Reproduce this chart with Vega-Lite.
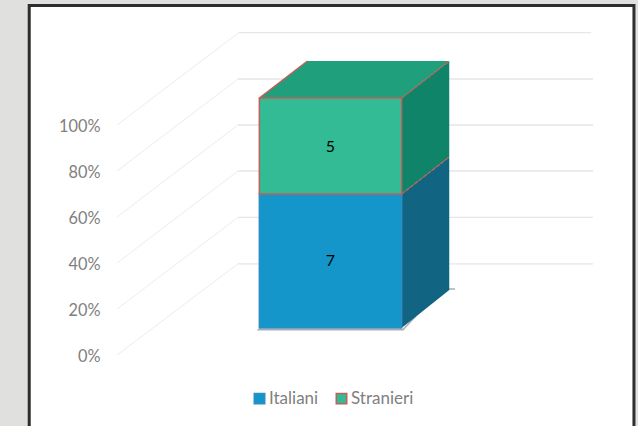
{"$schema":"https://vega.github.io/schema/vega-lite/v6.json","width":638,"height":426,"padding":0,"autosize":{"type":"none"},"background":"#e0e0de","config":{"view":{"stroke":null},"font":"Lato"},
"encoding":{"x":{"field":"x","type":"quantitative","axis":null,"scale":{"domain":[-24.58,109.45],"nice":false,"zero":false}},"y":{"field":"y","type":"quantitative","scale":{"domain":[-30.87,154.35],"nice":false,"zero":false},"axis":{"title":null,"values":[0,20,40,60,80,100],"labelExpr":"datum.value+'%'","domain":false,"ticks":false,"grid":false,"labelPadding":-100,"labelFont":"Lato","labelFontSize":16.3,"labelColor":"#7f7f7f","labelFontWeight":"normal","labelOffset":1,"zindex":1}}},
"layer":[
{"data":{"values":[{"x":-18.44,"x2":108.6,"y":151.96,"y2":-40}]},"mark":{"type":"rect","fill":"#ffffff","stroke":"#2f2d2d","strokeWidth":3},"encoding":{"x2":{"field":"x2"},"y2":{"field":"y2"}}},
{"data":{"values":[{"level":0,"x":0,"y":0},{"level":0,"x":25.4,"y":39.6},{"level":20,"x":0,"y":20},{"level":20,"x":25.4,"y":59.8},{"level":40,"x":0,"y":40},{"level":40,"x":25.4,"y":80},{"level":60,"x":0,"y":60},{"level":60,"x":25.4,"y":100},{"level":80,"x":0,"y":80},{"level":80,"x":25.4,"y":120},{"level":100,"x":0,"y":100},{"level":100,"x":25.6,"y":140.2}]},"mark":{"type":"line","color":"#ececec","strokeWidth":1},"encoding":{"detail":{"field":"level"}}},
{"data":{"values":[{"level":0,"x":25.4,"y":39.6},{"level":0,"x":100,"y":39.6},{"level":20,"x":25.4,"y":59.8},{"level":20,"x":100,"y":59.8},{"level":40,"x":25.4,"y":80},{"level":40,"x":100,"y":80},{"level":60,"x":25.4,"y":100},{"level":60,"x":100,"y":100},{"level":80,"x":25.4,"y":120},{"level":80,"x":100,"y":120},{"level":100,"x":25.6,"y":140.2},{"level":100,"x":99.6,"y":140.2}]},"mark":{"type":"line","color":"#e6e6e6","strokeWidth":1.3},"encoding":{"detail":{"field":"level"}}},
{"data":{"values":[{"x":29.5,"y":11.0},{"x":60.1,"y":11.0},{"x":71.0,"y":28.7},{"x":68,"y":28.7}]},"mark":{"type":"line","color":"#8a8a8a","strokeWidth":1.5,"opacity":0.7}},
{"data":{"values":[{"x":59.8,"y":11.7,"y2":70},{"x":69.8,"y":28.3,"y2":86.1}]},"mark":{"type":"area","color":"#116583"},"encoding":{"y2":{"field":"y2"}}},
{"data":{"values":[{"x":59.8,"y":70,"y2":111.7},{"x":69.8,"y":86.1,"y2":127.8}]},"mark":{"type":"area","color":"#0f8468"},"encoding":{"y2":{"field":"y2"}}},
{"data":{"values":[{"y":111.7,"x":29.9,"x2":59.8},{"y":127.8,"x":40,"x2":69.8}]},"mark":{"type":"area","orient":"horizontal","color":"#1f9f7c"},"encoding":{"x2":{"field":"x2"}}},
{"data":{"values":[{"edge":"a","x":29.9,"y":111.7},{"edge":"a","x":40,"y":127.8}]},"mark":{"type":"line","color":"#c0605a","strokeWidth":1.4},"encoding":{"detail":{"field":"edge"}}},
{"data":{"values":[{"edge":"b","x":59.8,"y":111.7},{"edge":"b","x":69.8,"y":127.8},{"edge":"c","x":59.8,"y":70},{"edge":"c","x":69.8,"y":86.1}]},"mark":{"type":"line","color":"#c0605a","strokeWidth":1.4,"strokeDash":[4,1.5]},"encoding":{"detail":{"field":"edge"}}},
{"data":{"values":[{"series":"Italiani","x":29.9,"x2":59.8,"y":11.7,"y2":70},{"series":"Stranieri","x":29.9,"x2":59.8,"y":70,"y2":111.7}]},"mark":{"type":"rect","strokeWidth":1.5},"encoding":{"x2":{"field":"x2"},"y2":{"field":"y2"},
"fill":{"field":"series","type":"nominal","scale":{"domain":["Italiani","Stranieri"],"range":["#1496cb","#33bb96"]},"legend":{"title":null,"orient":"none","legendX":251,"legendY":390,"direction":"horizontal","symbolType":"square","symbolSize":110,"symbolStrokeWidth":1.5,"labelFont":"Lato","labelFontSize":17,"labelColor":"#7f7f7f","columnPadding":14,"labelOffset":1}},
"stroke":{"field":"series","type":"nominal","scale":{"domain":["Italiani","Stranieri"],"range":["#2e8ec4","#c0605a"]},"legend":{"title":null,"orient":"none","legendX":251,"legendY":390,"direction":"horizontal","symbolType":"square","symbolSize":110,"symbolStrokeWidth":1.5,"labelFont":"Lato","labelFontSize":17,"labelColor":"#7f7f7f","columnPadding":14,"labelOffset":1}}}},
{"data":{"values":[{"series":"Italiani","count":7,"x":44.85,"y":41},{"series":"Stranieri","count":5,"x":44.85,"y":90.6}]},"mark":{"type":"text","font":"Lato","fontSize":16,"color":"#000000"},"encoding":{"text":{"field":"count","type":"quantitative"}}}
]}
